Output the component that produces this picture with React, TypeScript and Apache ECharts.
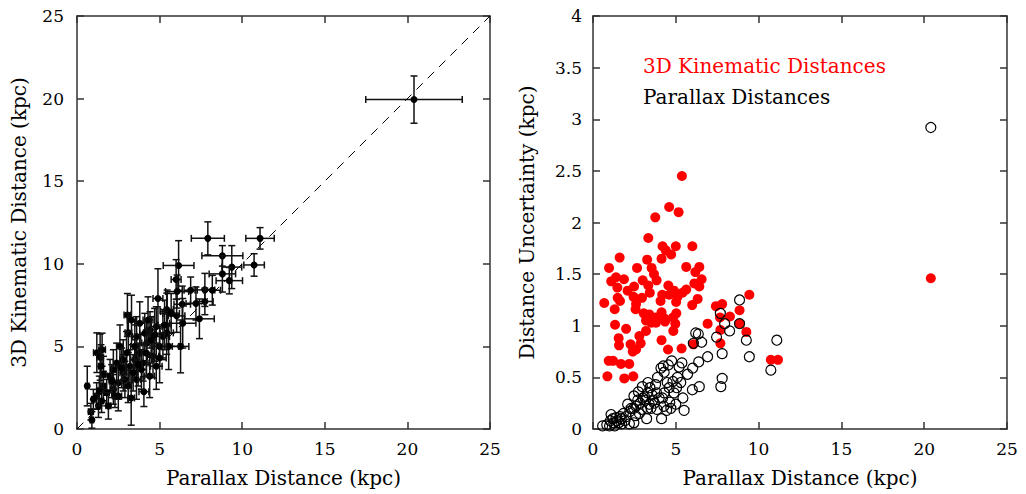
import React, { useEffect, useRef } from "react";
import * as echarts from "echarts";

// Left panel: [parallax distance, 3D kinematic distance, parallax err, kinematic err] (kpc)
const kinVsPar: number[][] = [
  [20.4, 19.94, 2.92, 1.43],
  [7.92, 11.54, 1.0, 1.0],
  [11.08, 11.54, 0.86, 0.65],
  [8.8, 10.48, 1.24, 0.62],
  [6.15, 9.9, 0.93, 1.5],
  [10.72, 9.93, 0.62, 0.68],
  [9.37, 9.8, 0.6, 1.3],
  [8.8, 9.39, 0.8, 1.1],
  [9.22, 8.98, 0.8, 0.8],
  [6.0, 9.05, 0.3, 1.2],
  [7.74, 8.42, 0.6, 1.0],
  [8.19, 8.4, 0.5, 0.9],
  [6.06, 8.32, 0.7, 1.0],
  [6.88, 8.4, 0.4, 0.8],
  [7.74, 7.72, 0.5, 0.8],
  [7.2, 7.6, 0.6, 1.0],
  [6.37, 7.55, 0.5, 1.1],
  [5.46, 7.11, 0.4, 1.3],
  [4.9, 7.9, 0.3, 1.8],
  [3.05, 6.9, 0.2, 1.3],
  [6.03, 6.85, 0.5, 1.0],
  [7.41, 6.67, 0.9, 1.2],
  [6.4, 6.4, 0.8, 1.5],
  [6.27, 5.0, 0.5, 1.6],
  [5.55, 5.0, 0.6, 1.4],
  [4.05, 2.26, 0.3, 0.9],
  [3.28, 1.88, 0.2, 1.65],
  [0.62, 2.6, 0.1, 1.2],
  [0.84, 1.05, 0.15, 0.5],
  [0.9, 0.55, 0.1, 0.5],
  [1.2, 4.62, 0.2, 1.2],
  [1.4, 4.35, 0.2, 1.4],
  [1.52, 4.8, 0.2, 1.0],
  [5.43, 7.23, 0.4, 1.0],
  [5.43, 5.82, 0.4, 1.3],
  [4.42, 6.0, 0.3, 1.1],
  [4.22, 5.2, 0.3, 1.3],
  [3.61, 5.6, 0.25, 1.2],
  [3.81, 4.61, 0.25, 1.1],
  [3.11, 5.83, 0.2, 1.2],
  [2.6, 5.0, 0.2, 1.3],
  [2.4, 4.0, 0.2, 1.2],
  [2.0, 3.21, 0.15, 1.0],
  [1.59, 2.6, 0.15, 0.9],
  [1.19, 2.0, 0.1, 0.8],
  [0.99, 1.8, 0.1, 0.6],
  [1.49, 1.7, 0.12, 0.7],
  [1.8, 2.2, 0.15, 0.8],
  [2.2, 2.4, 0.15, 0.9],
  [2.5, 2.8, 0.2, 1.0],
  [2.8, 3.4, 0.2, 1.1],
  [3.2, 3.8, 0.25, 1.0],
  [3.5, 4.2, 0.25, 1.2],
  [4.0, 4.0, 0.3, 1.1],
  [4.6, 4.4, 0.35, 1.3],
  [5.0, 5.0, 0.4, 1.2],
  [5.2, 5.6, 0.4, 1.4],
  [4.8, 6.2, 0.35, 1.2],
  [4.3, 6.6, 0.3, 1.4],
  [3.8, 6.4, 0.3, 1.3],
  [3.3, 6.6, 0.25, 1.5],
  [2.9, 3.0, 0.2, 1.1],
  [3.1, 2.6, 0.2, 1.0],
  [3.6, 3.0, 0.25, 1.2],
  [4.4, 3.2, 0.3, 1.3],
  [4.8, 3.8, 0.35, 1.4],
  [2.5, 2.0, 0.2, 0.9],
  [1.9, 1.4, 0.15, 0.8],
  [1.3, 1.4, 0.12, 0.7],
  [2.2, 3.6, 0.15, 1.2],
  [4.5, 5.4, 0.3, 1.4],
  [4.1, 5.8, 0.3, 1.2],
  [3.0, 4.6, 0.2, 1.3],
  [3.5, 5.0, 0.25, 1.3],
  [2.8, 4.2, 0.2, 1.2],
  [1.35, 2.3, 0.12, 0.9],
  [1.6, 3.3, 0.15, 1.1],
  [1.45, 3.8, 0.15, 1.3],
  [5.0, 4.3, 0.4, 1.5],
  [5.3, 6.3, 0.4, 1.5],
  [4.7, 5.7, 0.35, 1.6],
  [3.9, 3.6, 0.3, 1.2],
  [2.3, 2.0, 0.15, 0.7],
  [3.4, 3.4, 0.25, 1.1],
  [5.7, 7.0, 0.5, 1.2],
  [2.1, 2.9, 0.15, 1.0],
  [3.7, 3.9, 0.25, 1.3],
  [4.2, 4.6, 0.3, 1.4],
  [2.7, 3.7, 0.2, 1.2],
];

const oneToOne: number[][] = [
  [0, 0],
  [25, 25],
];

// Right panel: [parallax distance, uncertainty] (kpc)
const kinErr: number[][] = [
  [5.37, 2.45], [4.6, 2.15], [5.17, 2.1], [3.76, 2.05], [3.34, 1.85], [4.2, 1.77], [5.0, 1.77],
  [6.0, 1.77], [4.4, 1.73], [4.72, 1.69], [1.61, 1.66], [4.14, 1.65], [3.27, 1.64], [0.97, 1.56],
  [2.66, 1.56], [5.63, 1.57], [6.42, 1.57], [3.54, 1.56], [3.68, 1.5], [6.18, 1.52], [1.39, 1.47],
  [1.87, 1.45], [1.1, 1.43], [3.0, 1.44], [3.84, 1.44], [6.56, 1.45], [4.55, 1.39], [6.12, 1.41],
  [2.48, 1.38], [3.34, 1.39], [6.42, 1.38], [1.47, 1.37], [2.09, 1.34], [4.89, 1.34], [5.63, 1.35],
  [3.43, 1.32], [4.18, 1.3], [1.49, 1.27], [2.45, 1.28], [2.96, 1.27], [4.6, 1.3], [5.1, 1.28],
  [5.4, 1.32], [9.44, 1.3], [0.68, 1.22], [6.32, 1.26], [1.63, 1.24], [4.08, 1.24], [5.02, 1.23],
  [2.6, 1.21], [5.99, 1.2], [7.42, 1.19], [7.8, 1.21], [1.31, 1.16], [2.57, 1.16], [3.06, 1.12],
  [4.14, 1.13], [5.03, 1.12], [8.85, 1.15], [3.4, 1.11], [3.78, 1.08], [4.32, 1.07], [4.83, 1.08],
  [3.2, 1.05], [8.27, 1.09], [7.67, 1.08], [3.53, 1.03], [3.8, 1.03], [4.35, 1.04], [6.92, 1.02],
  [4.97, 1.02], [1.33, 1.01], [8.85, 1.02], [2.0, 0.97], [3.2, 0.95], [4.85, 0.95], [7.69, 0.96],
  [9.26, 0.94], [2.8, 0.9], [1.55, 0.88], [4.14, 0.86], [2.27, 0.82], [2.88, 0.83], [1.57, 0.81],
  [6.06, 0.82], [7.69, 0.83], [5.35, 0.78], [2.6, 0.77], [4.53, 0.77], [2.4, 0.75], [0.95, 0.66],
  [1.21, 0.66], [1.69, 0.63], [2.19, 0.63], [10.74, 0.67], [11.17, 0.67], [0.87, 0.51], [1.89, 0.49],
  [2.43, 0.51], [20.4, 1.46],
];

const parErr: number[][] = [
  [20.4, 2.92], [8.85, 1.25], [7.69, 1.12], [7.95, 1.02], [8.85, 1.02], [8.25, 0.95], [6.2, 0.93],
  [6.36, 0.92], [7.46, 0.89], [11.1, 0.86], [9.26, 0.86], [6.56, 0.84], [6.06, 0.83], [7.8, 0.73],
  [6.92, 0.7], [9.44, 0.7], [6.38, 0.65], [4.75, 0.66], [5.37, 0.64], [6.02, 0.59], [10.74, 0.57],
  [4.24, 0.61], [4.55, 0.62], [5.2, 0.6], [4.1, 0.59], [5.71, 0.53], [7.8, 0.49], [4.83, 0.46],
  [3.32, 0.45], [3.78, 0.43], [4.48, 0.45], [7.72, 0.41], [6.42, 0.41], [6.0, 0.38], [2.98, 0.41],
  [3.44, 0.4], [5.05, 0.4], [2.74, 0.36], [3.84, 0.35], [4.89, 0.35], [5.43, 0.3], [2.47, 0.32],
  [3.13, 0.31], [3.63, 0.28], [4.2, 0.3], [4.64, 0.26], [2.09, 0.24], [2.84, 0.25], [3.4, 0.24],
  [4.28, 0.22], [5.0, 0.24], [2.45, 0.2], [2.94, 0.19], [3.86, 0.19], [4.7, 0.2], [5.5, 0.18],
  [1.83, 0.15], [2.23, 0.17], [3.24, 0.1], [4.14, 0.1], [2.57, 0.13], [1.09, 0.14], [1.39, 0.11],
  [1.63, 0.12], [1.93, 0.08], [2.47, 0.06], [1.25, 0.06], [1.55, 0.06], [0.83, 0.04], [0.58, 0.03],
  [1.0, 0.03], [1.31, 0.03], [1.73, 0.05], [3.18, 0.28], [3.56, 0.33],
  [1.2, 0.1], [1.45, 0.08], [1.7, 0.1], [2.0, 0.12], [2.3, 0.2], [2.6, 0.22], [2.7, 0.28],
  [3.0, 0.3], [3.3, 0.35], [3.5, 0.2], [3.7, 0.25], [4.0, 0.3], [4.3, 0.35], [4.45, 0.18],
  [4.6, 0.4], [5.1, 0.5], [5.3, 0.45], [3.9, 0.5], [4.3, 0.55], [2.2, 0.05], [1.05, 0.08],
  [2.8, 0.15], [3.3, 0.2],
];

const xTicks = { min: 0, max: 25, interval: 5 };
const leftYTicks = { min: 0, max: 25, interval: 5 };
const rightYTicks = { min: 0, max: 4, interval: 0.5 };

const FONT = "DejaVu Serif";
const AXIS_COLOR = "#333";
const TICK_FS = 17;
const NAME_FS = 20;

function axisBase(extra: any) {
  return {
    type: "value",
    splitLine: { show: false },
    axisLine: { show: true, onZero: false, lineStyle: { color: AXIS_COLOR, width: 1.5 } },
    axisTick: { show: true, inside: true, length: 7, lineStyle: { color: AXIS_COLOR, width: 1.5 } },
    nameTextStyle: { color: "#000", fontSize: NAME_FS, fontFamily: FONT },
    ...extra,
  };
}

function label(margin: number) {
  return { show: true, color: "#000", fontSize: TICK_FS, fontFamily: FONT, margin };
}

export default function App() {
  const ref = useRef<HTMLDivElement>(null);
  useEffect(() => {
    document.body.style.margin = "0";
    if (!ref.current) return;
    const chart = echarts.init(ref.current, undefined, { renderer: "svg" });

    const errRender = (params: any, api: any) => {
      const x = api.value(0);
      const y = api.value(1);
      const xe = api.value(2);
      const ye = api.value(3);
      const c = api.coord([x, y]);
      const l = api.coord([x - xe, y]);
      const r = api.coord([x + xe, y]);
      const t = api.coord([x, y + ye]);
      const b = api.coord([x, y - ye]);
      const cap = 3.5;
      const st = { stroke: "#111", lineWidth: 1.5 };
      const ln = (x1: number, y1: number, x2: number, y2: number) => ({
        type: "line",
        shape: { x1, y1, x2, y2 },
        style: st,
      });
      return {
        type: "group",
        children: [
          ln(l[0], l[1], r[0], r[1]),
          ln(t[0], t[1], b[0], b[1]),
          ln(l[0], l[1] - cap, l[0], l[1] + cap),
          ln(r[0], r[1] - cap, r[0], r[1] + cap),
          ln(t[0] - cap, t[1], t[0] + cap, t[1]),
          ln(b[0] - cap, b[1], b[0] + cap, b[1]),
          { type: "circle", shape: { cx: c[0], cy: c[1], r: 3.5 }, style: { fill: "#000" } },
        ],
      };
    };

    chart.setOption({
      animation: false,
      backgroundColor: "#fff",
      grid: [
        { left: 77, top: 16, width: 413, height: 413 },
        { left: 593, top: 16, width: 414, height: 413 },
      ],
      xAxis: [
        axisBase({
          gridIndex: 0,
          position: "bottom",
          ...xTicks,
          name: "Parallax Distance (kpc)",
          nameLocation: "middle",
          nameGap: 39,
          axisLabel: label(11),
        }),
        axisBase({ gridIndex: 0, position: "top", ...xTicks, axisLabel: { show: false } }),
        axisBase({
          gridIndex: 1,
          position: "bottom",
          ...xTicks,
          name: "Parallax Distance (kpc)",
          nameLocation: "middle",
          nameGap: 39,
          axisLabel: label(11),
        }),
        axisBase({ gridIndex: 1, position: "top", ...xTicks, axisLabel: { show: false } }),
      ],
      yAxis: [
        axisBase({
          gridIndex: 0,
          position: "left",
          ...leftYTicks,
          name: "3D Kinematic Distance (kpc)",
          nameLocation: "middle",
          nameGap: 48,
          axisLabel: label(13),
        }),
        axisBase({ gridIndex: 0, position: "right", ...leftYTicks, axisLabel: { show: false } }),
        axisBase({
          gridIndex: 1,
          position: "left",
          ...rightYTicks,
          name: "Distance Uncertainty (kpc)",
          nameLocation: "middle",
          nameGap: 56,
          axisLabel: label(11),
        }),
        axisBase({ gridIndex: 1, position: "right", ...rightYTicks, axisLabel: { show: false } }),
      ],
      series: [
        {
          type: "line",
          xAxisIndex: 0,
          yAxisIndex: 0,
          data: oneToOne,
          symbol: "none",
          lineStyle: { color: "#000", width: 1, type: [9, 7] },
          silent: true,
        },
        {
          type: "custom",
          xAxisIndex: 0,
          yAxisIndex: 0,
          data: kinVsPar,
          renderItem: errRender,
          encode: { x: 0, y: 1 },
        },
        {
          type: "scatter",
          xAxisIndex: 2,
          yAxisIndex: 2,
          data: kinErr,
          symbol: "circle",
          symbolSize: 10,
          itemStyle: { color: "#ff0000", opacity: 1 },
        },
        {
          type: "scatter",
          xAxisIndex: 2,
          yAxisIndex: 2,
          data: parErr,
          symbol: "circle",
          symbolSize: 10,
          itemStyle: { color: "rgba(0,0,0,0)", borderColor: "#000", borderWidth: 1.2, opacity: 1 },
        },
      ],
      graphic: [
        {
          type: "text",
          left: 643,
          top: 56,
          style: { text: "3D Kinematic Distances", fill: "#ff0000", fontSize: NAME_FS, fontFamily: FONT },
        },
        {
          type: "text",
          left: 643,
          top: 87,
          style: { text: "Parallax Distances", fill: "#000", fontSize: NAME_FS, fontFamily: FONT },
        },
      ],
    });
    return () => chart.dispose();
  }, []);
  return <div ref={ref} style={{ width: 1026, height: 494 }} />;
}
